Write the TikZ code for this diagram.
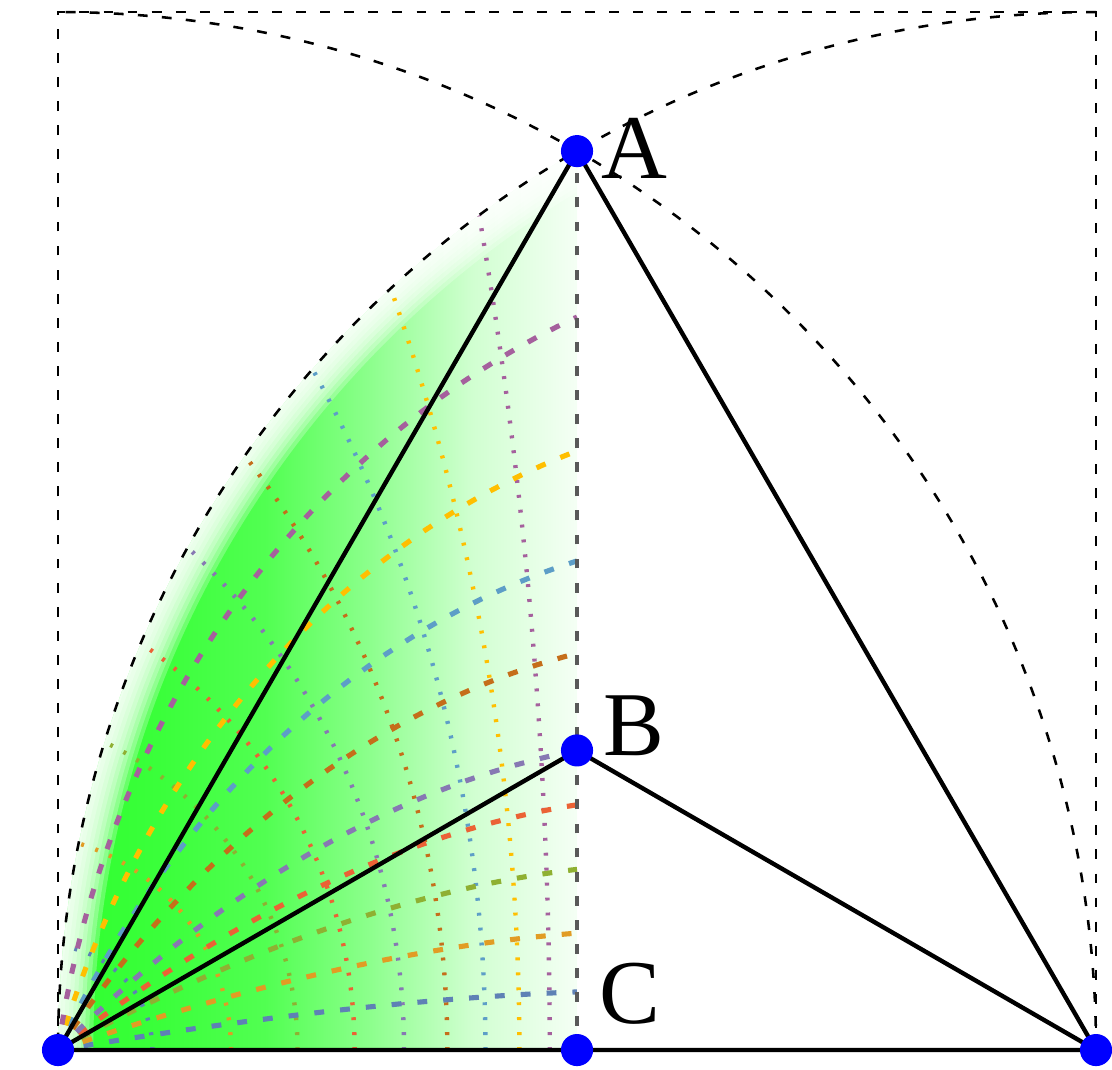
\documentclass[tikz,border=0pt]{standalone}
\usepackage{fontspec}
\setmainfont{Liberation Serif}
\usetikzlibrary{calc}

\definecolor{mma1}{HTML}{5E81B5}
\definecolor{mma2}{HTML}{E19C24}
\definecolor{mma3}{HTML}{8FB032}
\definecolor{mma4}{HTML}{EB6235}
\definecolor{mma5}{HTML}{8778B3}
\definecolor{mma6}{HTML}{C56E1A}
\definecolor{mma7}{HTML}{5D9EC7}
\definecolor{mma8}{HTML}{FFBF00}
\definecolor{mma9}{HTML}{A5609D}

\pgfdeclarehorizontalshading{greenfade}{100bp}{%
  color(0bp)=(green!82); color(25bp)=(green!82); color(35bp)=(green!77);
  color(45bp)=(green!68); color(55bp)=(green!45); color(65bp)=(green!18);
  color(75bp)=(green!4); color(100bp)=(green!4)}

\begin{document}
\begin{tikzpicture}[
    x=10cm, y=10cm,
    guide/.style={dash pattern=on 2.7pt off 3.9pt, line width=0.7pt},
    edge/.style={line width=1.2pt},
    level/.style={dash pattern=on 2.7pt off 4.4pt, line width=1.4pt},
    ratio/.style={dash pattern=on 0.8pt off 3.3pt, line width=1.2pt},
    dot/.style={circle, fill=blue, inner sep=0pt, minimum size=8.8pt},
    lbl/.style={anchor=west, inner sep=0pt, font=\fontsize{25}{25}\selectfont}
  ]
  \useasboundingbox (-0.0559,-0.0183) rectangle (1.0154,1.0116);

  \coordinate (o) at (0,0);
  \coordinate (e) at (1,0);
  \coordinate (c) at (0.5,0);
  \coordinate (b) at (0.5,{0.5*tan(30)});
  \coordinate (a) at (0.5,{sqrt(3)/2});
  \coordinate (tl) at (0,1);
  \coordinate (tr) at (1,1);

  % green region with the ratio circles
  \begin{scope}
    \clip (c) -- (a) arc[start angle=120, end angle=180, radius=1] -- cycle;
    \shade[shading=greenfade] (o) rectangle (a);
    \foreach \r in {0.966,0.97,...,0.998}
      \fill[white, fill opacity=0.25, even odd rule]
        (e) circle[radius=1] (e) circle[radius=\r];
    \foreach \k/\col in {0.1/mma1, 0.2/mma2, 0.3/mma3, 0.4/mma4, 0.5/mma5,
                         0.6/mma6, 0.7/mma7, 0.8/mma8, 0.9/mma9}
      \draw[ratio, \col] ({-\k*\k/(1-\k*\k)},0) circle[radius={\k/(1-\k*\k)}];
  \end{scope}

  % level curves from o
  \foreach \cc/\col in {9.6/mma1, 19.05/mma2, 28.8/mma3, 37.95/mma4, 45/mma5,
                        56.1/mma6, 64.95/mma7, 73.65/mma8, 82.05/mma9}
    \draw[level, \col] plot[domain=0:2*\cc/3, samples=40, variable=\t]
      ({tan(\t)/(tan(\cc-\t/2)+tan(\t))},
       {tan(\t)*tan(\cc-\t/2)/(tan(\cc-\t/2)+tan(\t))});

  \draw[guide] (o) -- (tl) -- (tr) -- (e);
  \draw[guide] (e) arc[start angle=0, end angle=90, radius=1];
  \draw[guide] (tr) arc[start angle=90, end angle=180, radius=1];
  \draw[guide, black!65, line width=1pt] (c) -- (a);

  \draw[edge] (o) -- (e) -- (a) -- cycle;
  \draw[edge] (o) -- (b) -- (e);

  \foreach \p in {o,e,c,b,a}
    \node[dot] (d\p) at (\p) {};

  \node[lbl] (la) at ($(a)+(0.023,0.003)$) {A};
  \node[lbl] (lb) at ($(b)+(0.025,0.024)$) {B};
  \node[lbl] (lc) at ($(c)+(0.021,0.054)$) {C};
\end{tikzpicture}
\end{document}
